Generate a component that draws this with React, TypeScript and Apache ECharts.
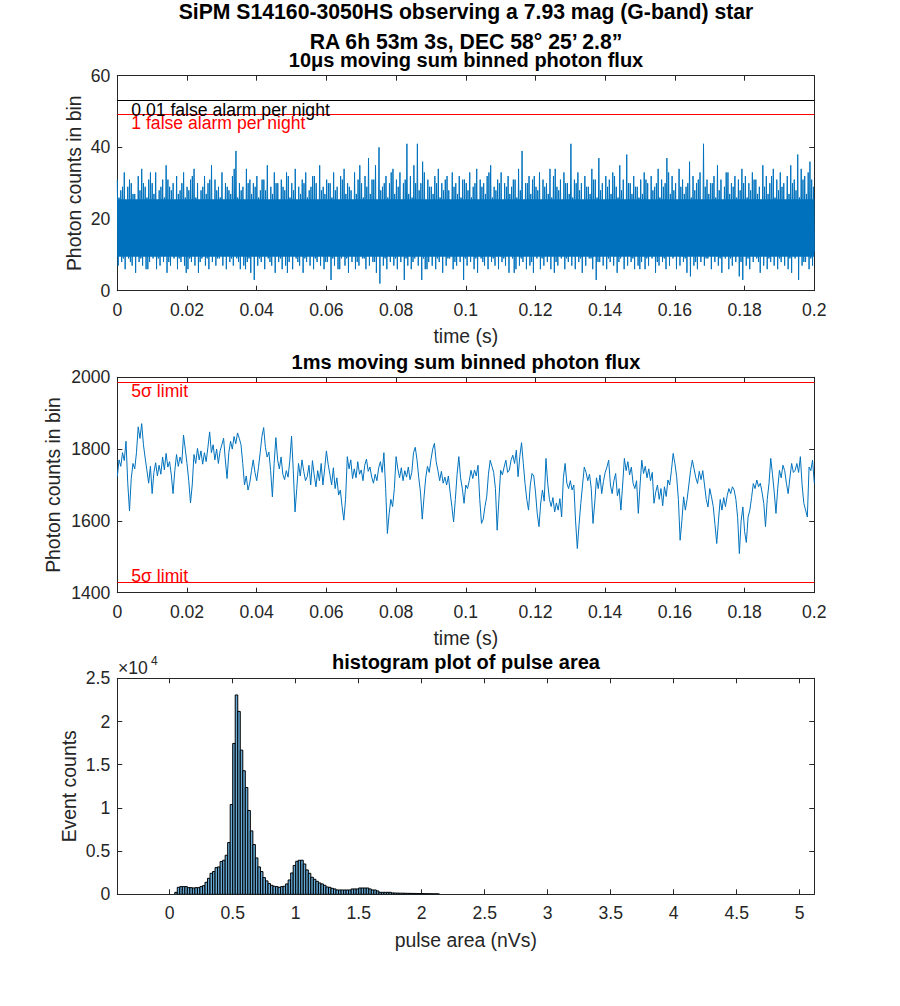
import React, { useEffect, useRef } from "react";
import * as echarts from "echarts";

const FONT = '"Liberation Sans", Arial, Helvetica, sans-serif';
const AX = "#262626";
const BLUE = "#0072BD";
const RED = "#FF0000";

// ---------- panel 1: 10 µs moving sum ----------
// The dense trace is described by two interleaved sets of per-bin peaks / troughs.
const TOP_T_END = 0.2;
const TOP_HI = [
  31, 28, 33, 29, 30, 27, 32, 34, 29, 31,
  30, 33, 28, 31, 35, 29, 30, 32, 28, 33,
  29, 31, 34, 30, 28, 32, 30, 35, 31, 29,
  33, 30, 28, 32, 39, 30, 29, 34, 31, 30,
  32, 28, 31, 35, 29, 33, 30, 31, 28, 32,
  30, 34, 29, 31, 33, 28, 32, 30, 35, 29,
  31, 30, 33, 29, 32, 34, 30, 28, 33, 31,
  30, 32, 37, 31, 35, 40, 29, 32, 30, 34,
  31, 33, 30, 41, 32, 35, 41, 30, 33, 31,
  29, 32, 34, 30, 31, 28, 33, 30, 32, 31,
  30, 33, 29, 34, 31, 30, 32, 35, 29, 31,
  33, 30, 32, 29, 31, 34, 39, 30, 32, 31,
  29, 33, 31, 30, 34, 32, 29, 31, 33, 30,
  41, 31, 33, 30, 32, 29, 34, 31, 37, 30,
  32, 31, 33, 29, 35, 31, 38, 30, 32, 29,
  31, 33, 30, 32, 29, 34, 31, 30, 33, 32,
  30, 34, 31, 29, 36, 32, 30, 33, 41, 31,
  30, 32, 35, 31, 29, 33, 30, 32, 31, 34,
  32, 30, 33, 31, 29, 35, 32, 30, 34, 31,
  33, 30, 32, 35, 31, 38, 34, 32, 33, 31,
];
const TOP_LO = [
  7, 8, 6, 9, 7, 5, 8, 7, 6, 8,
  9, 6, 7, 8, 5, 7, 9, 6, 8, 7,
  6, 8, 7, 5, 9, 7, 6, 8, 7, 9,
  7, 6, 8, 7, 9, 6, 7, 8, 5, 3,
  7, 8, 6, 9, 7, 5, 8, 6, 7, 8,
  6, 9, 7, 5, 8, 7, 6, 8, 7, 6,
  8, 3, 7, 6, 9, 7, 5, 8, 6, 7,
  9, 6, 7, 8, 5, 2, 7, 6, 8, 7,
  6, 8, 3, 7, 6, 9, 7, 3, 6, 8,
  7, 6, 8, 5, 7, 9, 6, 7, 8, 3,
  7, 8, 6, 5, 9, 7, 6, 8, 7, 6,
  8, 7, 5, 9, 6, 7, 8, 6, 7, 5,
  9, 6, 7, 8, 6, 5, 7, 9, 6, 8,
  7, 6, 8, 5, 7, 9, 6, 3, 8, 7,
  6, 8, 7, 5, 9, 6, 7, 8, 6, 7,
  8, 6, 7, 9, 5, 7, 8, 6, 7, 9,
  6, 7, 8, 5, 4, 7, 6, 8, 7, 9,
  6, 8, 7, 5, 9, 6, 7, 8, 4, 3,
  7, 6, 8, 9, 5, 7, 6, 8, 7, 6,
  8, 7, 6, 5, 9, 3, 7, 8, 6, 7,
];
const TOP_HI2 = [
  26, 29, 25, 31, 27, 24, 28, 30, 26, 33,
  27, 25, 29, 26, 31, 28, 24, 27, 30, 26,
  28, 32, 26, 25, 29, 27, 31, 24, 28, 26,
  25, 29, 27, 34, 26, 28, 25, 30, 27, 29,
  26, 31, 28, 25, 27, 30, 24, 29, 33, 26,
  28, 25, 27, 30, 26, 29, 32, 25, 28, 27,
  30, 26, 28, 25, 31, 27, 29, 24, 27, 35,
  26, 29, 27, 31, 25, 28, 30, 26, 33, 27,
  29, 25, 31, 27, 26, 30, 28, 36, 25, 29,
  27, 30, 26, 28, 32, 25, 29, 27, 26, 31,
  28, 26, 30, 25, 29, 27, 33, 26, 28, 30,
  25, 29, 27, 31, 26, 28, 24, 30, 27, 32,
  28, 25, 29, 27, 26, 34, 28, 25, 30, 27,
  26, 30, 28, 25, 29, 27, 31, 26, 28, 25,
  29, 27, 32, 26, 28, 25, 30, 27, 29, 26,
  27, 31, 25, 28, 30, 26, 29, 37, 27, 28,
  25, 29, 27, 30, 26, 28, 31, 25, 29, 27,
  30, 26, 28, 25, 33, 27, 29, 26, 28, 30,
  26, 28, 31, 27, 25, 29, 27, 32, 26, 28,
  29, 25, 27, 30, 28, 26, 31, 27, 36, 29,
];
const TOP_LO2 = [
  10, 9, 11, 8, 12, 10, 9, 11, 6, 10,
  11, 9, 10, 12, 8, 10, 11, 9, 10, 5,
  9, 11, 10, 8, 12, 9, 10, 11, 9, 10,
  12, 10, 9, 11, 8, 10, 6, 9, 11, 10,
  9, 10, 12, 8, 10, 11, 9, 10, 5, 11,
  10, 8, 11, 9, 12, 10, 9, 11, 10, 8,
  11, 9, 10, 6, 11, 9, 12, 10, 8, 10,
  9, 11, 10, 8, 12, 10, 9, 11, 10, 9,
  10, 12, 9, 11, 8, 10, 11, 9, 6, 10,
  11, 9, 10, 12, 9, 10, 8, 11, 10, 9,
  10, 11, 9, 10, 8, 12, 10, 9, 11, 10,
  9, 10, 12, 5, 10, 9, 11, 10, 8, 11,
  10, 9, 11, 10, 12, 8, 10, 11, 9, 10,
  11, 10, 9, 12, 10, 9, 11, 8, 10, 11,
  9, 11, 10, 8, 11, 10, 12, 9, 10, 6,
  10, 9, 11, 10, 8, 12, 9, 10, 11, 10,
  12, 10, 9, 11, 10, 8, 11, 10, 9, 12,
  10, 11, 9, 10, 12, 9, 10, 11, 8, 10,
  9, 10, 12, 8, 11, 10, 9, 11, 10, 9,
  11, 10, 9, 12, 10, 11, 8, 10, 9, 11,
];
// solid-looking core of the trace (lower, upper count)
const TOP_CORE_BAND = [9.5, 25.5];
const TOP_ALARM_LEVELS = [53.1, 49.3];
const TOP_ALARM_LABELS = ["0.01 false alarm per night", "1 false alarm per night"];

// ---------- panel 2: 1 ms moving sum ----------
const MID_STEP = 0.0005;
const MID_VALUES = [
  1723, 1770, 1752, 1790, 1768, 1822, 1705, 1628, 1718, 1760,
  1745, 1790, 1862, 1830, 1871, 1812, 1775, 1740, 1705, 1752,
  1676, 1735, 1762, 1725, 1755, 1730, 1778, 1742, 1788, 1750,
  1765, 1728, 1676, 1740, 1785, 1752, 1778, 1760, 1839, 1800,
  1760, 1712, 1650, 1700, 1785, 1760, 1802, 1770, 1795, 1758,
  1790, 1765, 1805, 1848, 1790, 1812, 1770, 1800, 1760, 1795,
  1812, 1830, 1770, 1718, 1790, 1822, 1800, 1835, 1815, 1845,
  1830, 1812, 1760, 1700, 1725, 1686, 1705, 1740, 1770, 1735,
  1712, 1748, 1790, 1835, 1860, 1805, 1778, 1792, 1740, 1667,
  1760, 1832, 1770, 1745, 1778, 1730, 1715, 1740, 1722, 1768,
  1836, 1740, 1625, 1690, 1760, 1725, 1770, 1738, 1712, 1723,
  1755, 1700, 1768, 1728, 1695, 1740, 1712, 1760, 1700, 1745,
  1795, 1758, 1730, 1700, 1748, 1690, 1720, 1672, 1686, 1640,
  1602, 1660, 1779, 1745, 1770, 1718, 1745, 1720, 1765, 1730,
  1742, 1712, 1755, 1772, 1738, 1750, 1722, 1705, 1730, 1712,
  1748, 1765, 1735, 1790, 1690, 1565, 1620, 1660, 1640, 1690,
  1779, 1745, 1720, 1748, 1712, 1740, 1722, 1750, 1715, 1735,
  1790, 1805, 1770, 1720, 1680, 1605, 1665, 1720, 1752, 1735,
  1770, 1800, 1816, 1765, 1740, 1712, 1738, 1705, 1722, 1700,
  1725, 1680, 1640, 1597, 1660, 1730, 1779, 1720, 1690, 1649,
  1700, 1690, 1712, 1741, 1718, 1742, 1725, 1755, 1660, 1593,
  1605, 1640, 1667, 1730, 1769, 1752, 1735, 1690, 1574, 1660,
  1741, 1728, 1750, 1769, 1735, 1742, 1770, 1783, 1760, 1797,
  1723, 1780, 1818, 1760, 1704, 1660, 1630, 1700, 1732, 1725,
  1680, 1620, 1584, 1650, 1686, 1655, 1774, 1705, 1660, 1640,
  1665, 1625, 1650, 1630, 1662, 1611, 1720, 1760, 1705, 1690,
  1712, 1686, 1700, 1600, 1523, 1590, 1649, 1700, 1750, 1735,
  1712, 1730, 1690, 1593, 1650, 1720, 1690, 1728, 1676, 1710,
  1735, 1750, 1769, 1700, 1676, 1712, 1732, 1670, 1690, 1630,
  1700, 1774, 1740, 1765, 1728, 1750, 1705, 1690, 1712, 1621,
  1700, 1769, 1732, 1752, 1720, 1745, 1712, 1735, 1649, 1680,
  1700, 1660, 1690, 1642, 1695, 1668, 1714, 1700, 1740, 1788,
  1760, 1723, 1660, 1546, 1600, 1667, 1630, 1660, 1700, 1741,
  1769, 1745, 1720, 1704, 1738, 1715, 1740, 1700, 1660, 1639,
  1690, 1667, 1640, 1590, 1537, 1600, 1660, 1630, 1665, 1640,
  1670, 1690, 1676, 1695, 1686, 1660, 1610, 1509, 1600, 1639,
  1570, 1540, 1611, 1630, 1665, 1704, 1690, 1714, 1695, 1705,
  1680, 1649, 1584, 1660, 1704, 1774, 1730, 1680, 1621, 1690,
  1741, 1720, 1755, 1740, 1705, 1676, 1720, 1760, 1735, 1741,
  1760, 1735, 1779, 1700, 1649, 1630, 1611, 1750, 1740, 1769, 1704,
];
const MID_SIGMA_LIMITS = [1986, 1430];

// ---------- panel 3: histogram of pulse area ----------
const HIST_BIN_START = 0.04;
const HIST_BIN_WIDTH = 0.02;
const HIST_COUNTS = [
  230, 810, 890, 890, 890, 770, 770, 730, 770, 770,
  890, 1000, 1390, 1850, 2430, 2630, 3090, 3170, 3790, 3940,
  4520, 5990, 10390, 17460, 23070, 21170, 16690, 14300, 12360, 9700,
  7340, 5760, 4210, 3170, 2630, 1930, 1550, 1240, 1040, 930,
  890, 810, 890, 930, 1200, 1660, 2470, 3340, 3820, 3940,
  3940, 3510, 2820, 2430, 1970, 1740, 1500, 1310, 1200, 1040,
  850, 810, 690, 620, 500, 500, 500, 500, 500, 500,
  620, 620, 620, 730, 730, 730, 730, 620, 500, 500,
  390, 230, 230, 230, 230, 230, 160, 150, 140, 130,
  130, 120, 110, 110, 100, 100, 90, 90, 80, 80,
  70, 70, 60, 60, 50,
];
const HIST_TICKS = [0, 0.5, 1, 1.5, 2, 2.5, 3, 3.5, 4, 4.5, 5];
const HIST_X_RANGE = [-0.416, 5.116];

const TICK_FS = 17.6;
const LABEL_FS = 19.4;
const TITLE_FS = 20;
const SUPTITLE_FS = 21.2;

function xAx(gridIndex: number, min: number, max: number, interval: number | null, top: boolean, extra: any = {}) {
  return {
    type: "value",
    gridIndex,
    position: top ? "top" : "bottom",
    min,
    max,
    ...(interval != null ? { interval } : {}),
    axisLine: { show: true, onZero: false, lineStyle: { color: AX, width: 1 } },
    axisTick: { show: true, inside: true, length: 5, lineStyle: { color: AX, width: 1 }, ...(extra.tickCustom ? { customValues: extra.tickCustom } : {}) },
    axisLabel: {
      show: !top,
      color: AX,
      fontSize: TICK_FS,
      fontFamily: FONT,
      margin: 10,
      formatter: (v: number) => String(+v.toFixed(6)),
      ...(extra.tickCustom ? { customValues: extra.tickCustom } : {}),
    },
    splitLine: { show: false },
    name: top ? "" : extra.name,
    nameLocation: "middle",
    nameGap: extra.nameGap,
    nameTextStyle: { color: AX, fontSize: LABEL_FS, fontFamily: FONT },
  };
}

function yAx(gridIndex: number, min: number, max: number, interval: number, right: boolean, extra: any = {}) {
  return {
    type: "value",
    gridIndex,
    position: right ? "right" : "left",
    min,
    max,
    interval,
    axisLine: { show: true, onZero: false, lineStyle: { color: AX, width: 1 } },
    axisTick: { show: true, inside: true, length: 5, lineStyle: { color: AX, width: 1 } },
    axisLabel: {
      show: !right,
      color: AX,
      fontSize: TICK_FS,
      fontFamily: FONT,
      margin: 7,
      formatter: extra.formatter ? extra.formatter : (v: number) => String(v),
    },
    splitLine: { show: false },
    name: right ? "" : extra.name,
    nameLocation: "middle",
    nameGap: extra.nameGap,
    nameMoveOverlap: false,
    nameTextStyle: { color: AX, fontSize: LABEL_FS, fontFamily: FONT },
  };
}

function titleText(text: string, y: number, fontSize: number) {
  return {
    type: "text",
    x: 466,
    y,
    style: {
      text,
      fontSize,
      fontWeight: "bold",
      fontFamily: FONT,
      fill: "#000",
      align: "center",
      verticalAlign: "middle",
      lineHeight: 16,
    },
  };
}

function buildOption() {
  const n = TOP_HI.length;
  const topStep = TOP_T_END / (n * 4 - 1);
  const topData: number[][] = [];
  for (let j = 0; j < n; j++) {
    topData.push([(4 * j) * topStep, TOP_HI[j]]);
    topData.push([(4 * j + 1) * topStep, TOP_LO[j]]);
    topData.push([(4 * j + 2) * topStep, TOP_HI2[j]]);
    topData.push([(4 * j + 3) * topStep, TOP_LO2[j]]);
  }
  const midData = MID_VALUES.map((v, i) => [i * MID_STEP, v]);
  const histData = HIST_COUNTS.map((c, i) => [
    HIST_BIN_START + i * HIST_BIN_WIDTH,
    HIST_BIN_START + (i + 1) * HIST_BIN_WIDTH,
    c,
  ]);

  const lineLabel = (text: string, color: string, pos: string, dy: number) => ({
    show: true,
    formatter: text,
    position: pos,
    color,
    fontSize: TICK_FS,
    fontFamily: FONT,
    lineHeight: 14,
    distance: [14, dy],
  });

  const gridBox = { left: 117.3, width: 697 };

  return {
    animation: false,
    textStyle: { fontFamily: FONT },
    grid: [
      { ...gridBox, top: 75.7, height: 215 },
      { ...gridBox, top: 377.3, height: 215.4 },
      { ...gridBox, top: 678.3, height: 216 },
    ],
    xAxis: [
      xAx(0, 0, 0.2, 0.02, false, { name: "time (s)", nameGap: 36 }),
      xAx(0, 0, 0.2, 0.02, true),
      xAx(1, 0, 0.2, 0.02, false, { name: "time (s)", nameGap: 36 }),
      xAx(1, 0, 0.2, 0.02, true),
      xAx(2, HIST_X_RANGE[0], HIST_X_RANGE[1], null, false, { name: "pulse area (nVs)", nameGap: 36, tickCustom: HIST_TICKS }),
      xAx(2, HIST_X_RANGE[0], HIST_X_RANGE[1], null, true, { tickCustom: HIST_TICKS }),
    ],
    yAxis: [
      yAx(0, 0, 60, 20, false, { name: "Photon counts in bin", nameGap: 34 }),
      yAx(0, 0, 60, 20, true),
      yAx(1, 1400, 2000, 200, false, { name: "Photon counts in bin", nameGap: 55 }),
      yAx(1, 1400, 2000, 200, true),
      yAx(2, 0, 25000, 5000, false, {
        name: "Event counts",
        nameGap: 39,
        formatter: (v: number) => String(v / 10000),
      }),
      yAx(2, 0, 25000, 5000, true),
    ],
    series: [
      {
        type: "line",
        xAxisIndex: 0,
        yAxisIndex: 0,
        data: topData,
        showSymbol: false,
        symbol: "none",
        lineStyle: { color: BLUE, width: 1 },
        silent: true,
        markArea: {
          silent: true,
          itemStyle: { color: BLUE, opacity: 1 },
          data: [[{ yAxis: TOP_CORE_BAND[0] }, { yAxis: TOP_CORE_BAND[1] }]],
        },
        markLine: {
          silent: true,
          symbol: "none",
          animation: false,
          data: [
            {
              yAxis: TOP_ALARM_LEVELS[0],
              lineStyle: { color: "#000", width: 1, type: "solid" },
              label: lineLabel(TOP_ALARM_LABELS[0], "#000", "insideStartBottom", 3),
            },
            {
              yAxis: TOP_ALARM_LEVELS[1],
              lineStyle: { color: RED, width: 1, type: "solid" },
              label: lineLabel(TOP_ALARM_LABELS[1], RED, "insideStartBottom", 1.5),
            },
          ],
        },
      },
      {
        type: "line",
        xAxisIndex: 2,
        yAxisIndex: 2,
        data: midData,
        showSymbol: false,
        symbol: "none",
        lineStyle: { color: BLUE, width: 1 },
        silent: true,
        markLine: {
          silent: true,
          symbol: "none",
          animation: false,
          data: [
            {
              yAxis: MID_SIGMA_LIMITS[0],
              lineStyle: { color: RED, width: 1, type: "solid" },
              label: lineLabel("5σ limit", RED, "insideStartBottom", 2),
            },
            {
              yAxis: MID_SIGMA_LIMITS[1],
              lineStyle: { color: RED, width: 1, type: "solid" },
              label: lineLabel("5σ limit", RED, "insideStartTop", -1),
            },
          ],
        },
      },
      {
        type: "custom",
        xAxisIndex: 4,
        yAxisIndex: 4,
        data: histData,
        encode: { x: [0, 1], y: 2 },
        clip: true,
        silent: true,
        renderItem: (params: any, api: any) => {
          const p0 = api.coord([api.value(0), api.value(2)]);
          const p1 = api.coord([api.value(1), 0]);
          return {
            type: "rect",
            shape: { x: p0[0], y: p0[1], width: p1[0] - p0[0], height: p1[1] - p0[1] },
            style: { fill: "rgb(102,170,215)", stroke: "#000", lineWidth: 1 },
          };
        },
      },
    ],
    graphic: [
      titleText("SiPM S14160-3050HS observing a 7.93 mag (G-band) star", 11, SUPTITLE_FS),
      titleText("RA 6h 53m 3s, DEC 58° 25’ 2.8”", 41, SUPTITLE_FS),
      titleText("10μs moving sum binned photon flux", 60, TITLE_FS),
      titleText("1ms moving sum binned photon flux", 362, TITLE_FS),
      titleText("histogram plot of pulse area", 662, TITLE_FS),
      { type: "text", x: 118, y: 668, style: { text: "×10", fontSize: TICK_FS, fontFamily: FONT, fill: AX, align: "left", verticalAlign: "middle" } },
      { type: "text", x: 151, y: 661, style: { text: "4", fontSize: 12, fontFamily: FONT, fill: AX, align: "left", verticalAlign: "middle" } },
    ],
  };
}

export default function App() {
  const ref = useRef<HTMLDivElement>(null);
  useEffect(() => {
    if (!ref.current) return;
    const chart = echarts.init(ref.current, undefined, { renderer: "svg" });
    chart.setOption(buildOption() as any);
    return () => chart.dispose();
  }, []);
  return (
    <div
      ref={ref}
      style={{ position: "absolute", left: 0, top: 0, width: 900, height: 1006, background: "#fff" }}
    />
  );
}
